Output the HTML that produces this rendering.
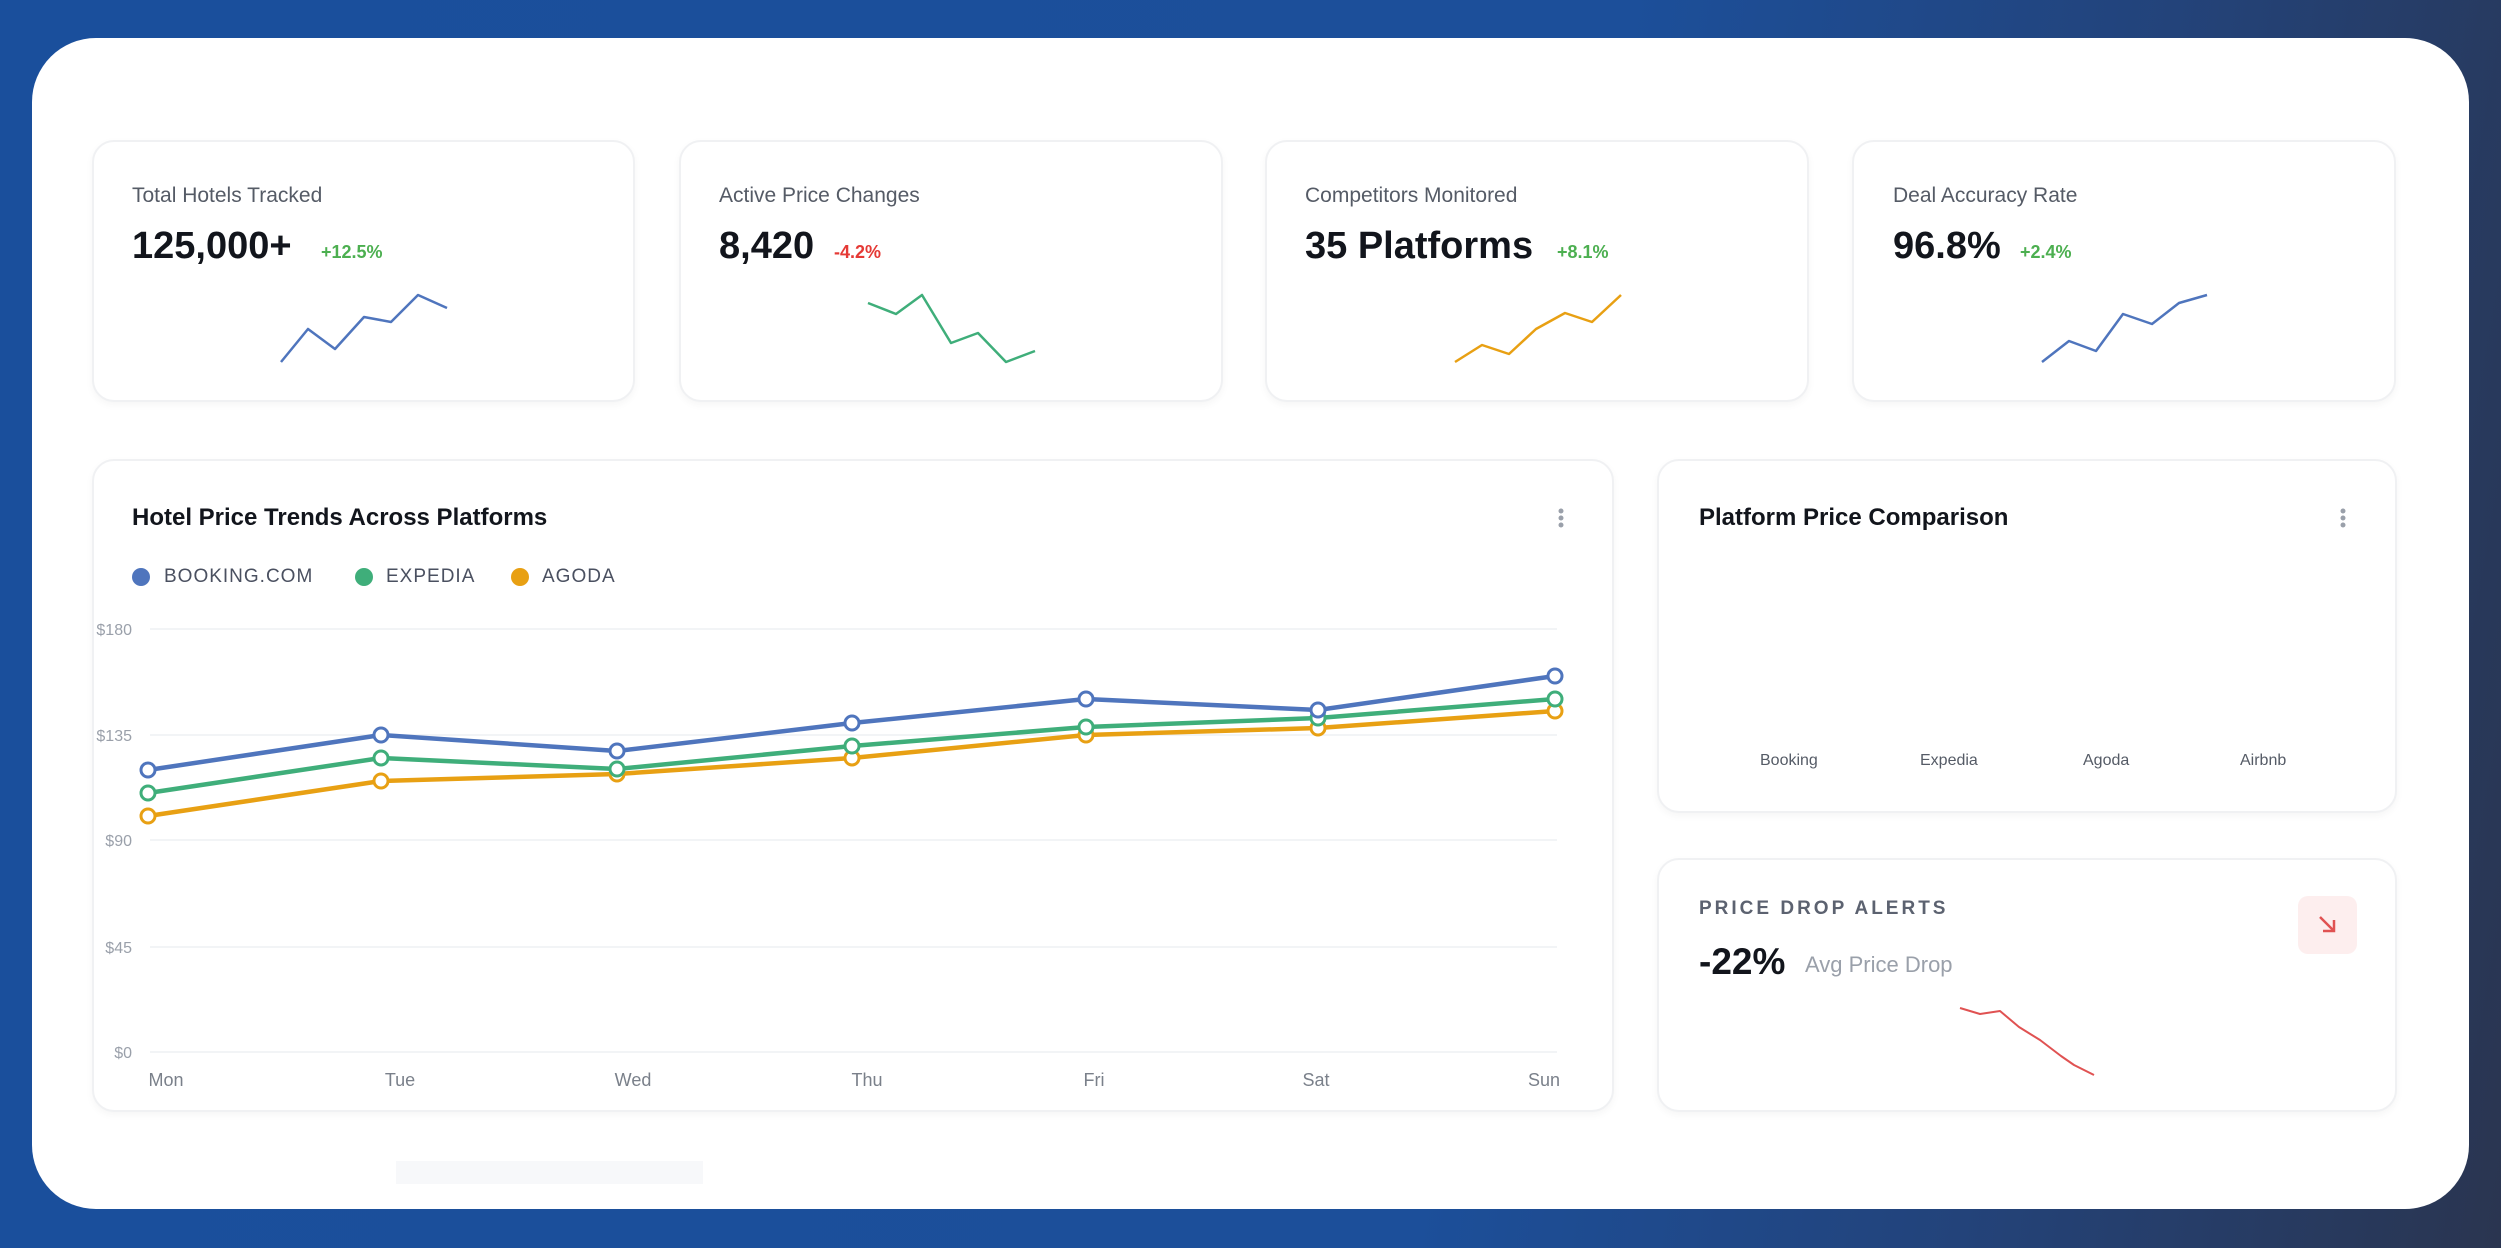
<!DOCTYPE html>
<html><head><meta charset="utf-8"><style>
html,body{margin:0;padding:0;width:2501px;height:1248px;overflow:hidden;font-family:"Liberation Sans",sans-serif;}
body{background:linear-gradient(100deg,#1a4f9c 0%,#1c4f9a 60%,#23437a 80%,#2a3550 100%);position:relative;}
.panel{position:absolute;left:32px;top:38px;width:2437px;height:1171px;background:#fff;border-radius:64px;}
.card{position:absolute;background:#fff;border:2px solid #f0f1f3;border-radius:22px;box-shadow:0 3px 8px rgba(0,0,0,0.04);box-sizing:border-box;}
.t{position:absolute;white-space:nowrap;}
.lbl{font-size:21px;color:#555b66;}
.val{font-size:38px;font-weight:bold;color:#12151c;}
.chg{font-size:18px;font-weight:bold;}
</style></head><body>
<div class="panel"></div>
<div class="card" style="left:92px;top:140px;width:543px;height:262px"></div>
<div class="card" style="left:679px;top:140px;width:544px;height:262px"></div>
<div class="card" style="left:1265px;top:140px;width:544px;height:262px"></div>
<div class="card" style="left:1852px;top:140px;width:544px;height:262px"></div>
<div class="card" style="left:92px;top:459px;width:1522px;height:653px"></div>
<div class="card" style="left:1657px;top:459px;width:740px;height:354px"></div>
<div class="card" style="left:1657px;top:858px;width:740px;height:254px"></div>
<div style="position:absolute;left:396px;top:1161px;width:307px;height:23px;background:#f7f8fa;"></div>

<div class="t lbl" style="left:132px;top:184px">Total Hotels Tracked</div>
<div class="t val" style="left:132px;top:225px">125,000+</div>
<div class="t chg" style="left:321px;top:242px;color:#4caf50">+12.5%</div>
<div class="t lbl" style="left:719px;top:184px">Active Price Changes</div>
<div class="t val" style="left:719px;top:225px">8,420</div>
<div class="t chg" style="left:834px;top:242px;color:#e53935">-4.2%</div>
<div class="t lbl" style="left:1305px;top:184px">Competitors Monitored</div>
<div class="t val" style="left:1305px;top:225px">35 Platforms</div>
<div class="t chg" style="left:1557px;top:242px;color:#4caf50">+8.1%</div>
<div class="t lbl" style="left:1893px;top:184px">Deal Accuracy Rate</div>
<div class="t val" style="left:1893px;top:225px">96.8%</div>
<div class="t chg" style="left:2020px;top:242px;color:#4caf50">+2.4%</div>

<div class="t" style="left:132px;top:504px;font-size:24px;font-weight:bold;color:#12151c">Hotel Price Trends Across Platforms</div>
<div class="t" style="left:164px;top:566px;font-size:19px;color:#4a5060;letter-spacing:1px">BOOKING.COM</div>
<div class="t" style="left:386px;top:566px;font-size:19px;color:#4a5060;letter-spacing:1px">EXPEDIA</div>
<div class="t" style="left:542px;top:566px;font-size:19px;color:#4a5060;letter-spacing:1px">AGODA</div>

<div class="t" style="left:1699px;top:504px;font-size:24px;font-weight:bold;color:#12151c">Platform Price Comparison</div>
<div class="t" style="left:1760px;top:752px;font-size:16px;color:#555b66">Booking</div>
<div class="t" style="left:1920px;top:752px;font-size:16px;color:#555b66">Expedia</div>
<div class="t" style="left:2083px;top:752px;font-size:16px;color:#555b66">Agoda</div>
<div class="t" style="left:2240px;top:752px;font-size:16px;color:#555b66">Airbnb</div>

<div class="t" style="left:1699px;top:898px;font-size:19px;font-weight:bold;color:#5c6270;letter-spacing:3px">PRICE DROP ALERTS</div>
<div class="t" style="left:1699px;top:941px;font-size:37px;font-weight:bold;color:#12151c">-22%</div>
<div class="t" style="left:1805px;top:952px;font-size:22px;color:#9aa0aa">Avg Price Drop</div>
<div style="position:absolute;left:2298px;top:896px;width:59px;height:58px;background:#fdeeee;border-radius:10px;"></div>

<svg width="2501" height="1248" style="position:absolute;left:0;top:0">
<g fill="none" stroke-width="2.5" stroke-linejoin="round">
<polyline stroke="#4f75bd" points="281,362 308,329 335,349 364,317 391,322 418,295 447,308"/>
<polyline stroke="#3fae7a" points="868,303 896,314 922,295 951,343 978,333 1006,362 1035,351"/>
<polyline stroke="#e8a013" points="1455,362 1482,345 1509,354 1536,329 1565,313 1592,322 1621,295"/>
<polyline stroke="#4f75bd" points="2042,362 2069,341 2096,351 2123,314 2152,324 2179,303 2207,295"/>
<polyline stroke="#e05252" stroke-width="2" points="1960,1008 1980,1014 2000,1011 2019,1027 2040,1040 2061,1056 2074,1065 2094,1075"/>
</g>
<circle cx="141" cy="577" r="9" fill="#4f75bd"/>
<circle cx="364" cy="577" r="9" fill="#3fae7a"/>
<circle cx="520" cy="577" r="9" fill="#e8a013"/>
<g fill="#9aa0aa"><circle cx="1561" cy="511" r="2.5"/><circle cx="1561" cy="518" r="2.5"/><circle cx="1561" cy="525" r="2.5"/>
<circle cx="2343" cy="511" r="2.5"/><circle cx="2343" cy="518" r="2.5"/><circle cx="2343" cy="525" r="2.5"/></g>
<g stroke="#e05252" stroke-width="2.5" fill="none"><line x1="2320" y1="917" x2="2334" y2="931"/><polyline points="2323,931 2334,931 2334,920"/></g>
<g stroke="#eef0f3" stroke-width="1.5">
<line x1="150" y1="629" x2="1557" y2="629"/><line x1="150" y1="735" x2="1557" y2="735"/>
<line x1="150" y1="840" x2="1557" y2="840"/><line x1="150" y1="947" x2="1557" y2="947"/>
<line x1="150" y1="1052" x2="1557" y2="1052"/></g>
<g font-family="Liberation Sans" font-size="16" fill="#9aa0aa" text-anchor="end">
<text x="132" y="635">$180</text><text x="132" y="741">$135</text><text x="132" y="846">$90</text><text x="132" y="953">$45</text><text x="132" y="1058">$0</text></g>
<g font-family="Liberation Sans" font-size="18" fill="#7a808a" text-anchor="middle">
<text x="166" y="1086">Mon</text><text x="400" y="1086">Tue</text><text x="633" y="1086">Wed</text><text x="867" y="1086">Thu</text><text x="1094" y="1086">Fri</text><text x="1316" y="1086">Sat</text><text x="1544" y="1086">Sun</text></g>
<g fill="none" stroke-width="4.5" stroke-linejoin="round">
<polyline stroke="#e8a013" points="148,816 381,781 617,774 852,758 1086,735 1318,728 1555,711"/>
<polyline stroke="#3fae7a" points="148,793 381,758 617,769 852,746 1086,727 1318,718 1555,699"/>
<polyline stroke="#4f75bd" points="148,770 381,735 617,751 852,723 1086,699 1318,710 1555,676"/>
</g>
<g fill="#fff" stroke-width="3">
<g stroke="#e8a013"><circle cx="148" cy="816" r="7"/><circle cx="381" cy="781" r="7"/><circle cx="617" cy="774" r="7"/><circle cx="852" cy="758" r="7"/><circle cx="1086" cy="735" r="7"/><circle cx="1318" cy="728" r="7"/><circle cx="1555" cy="711" r="7"/></g>
<g stroke="#3fae7a"><circle cx="148" cy="793" r="7"/><circle cx="381" cy="758" r="7"/><circle cx="617" cy="769" r="7"/><circle cx="852" cy="746" r="7"/><circle cx="1086" cy="727" r="7"/><circle cx="1318" cy="718" r="7"/><circle cx="1555" cy="699" r="7"/></g>
<g stroke="#4f75bd"><circle cx="148" cy="770" r="7"/><circle cx="381" cy="735" r="7"/><circle cx="617" cy="751" r="7"/><circle cx="852" cy="723" r="7"/><circle cx="1086" cy="699" r="7"/><circle cx="1318" cy="710" r="7"/><circle cx="1555" cy="676" r="7"/></g>
</g>
</svg>
</body></html>
